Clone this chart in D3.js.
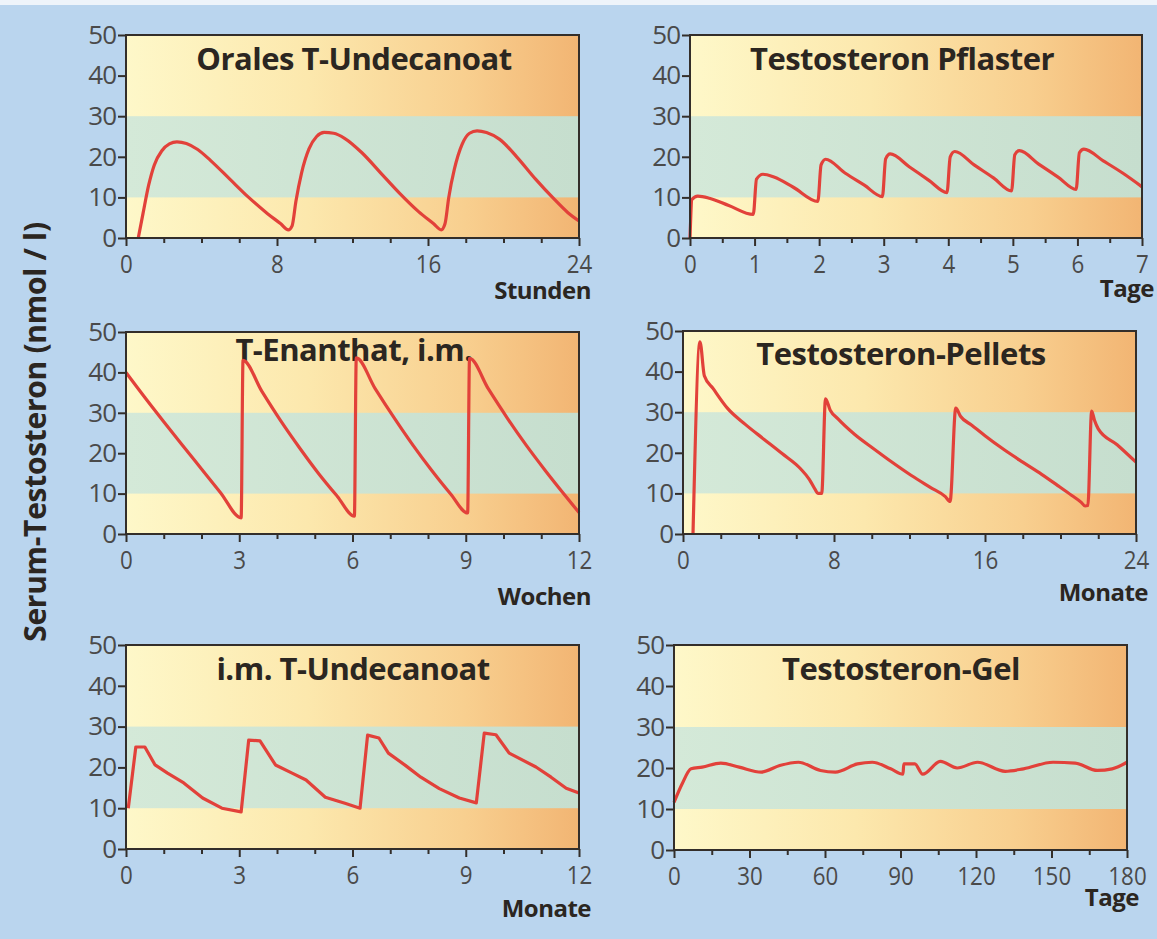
<!DOCTYPE html>
<html>
<head>
<meta charset="utf-8">
<script src="https://cdn.jsdelivr.net/npm/d3@7"></script>
<style>
  html, body { margin: 0; padding: 0; background: #bad5ee; }
  svg { display: block; }
</style>
</head>
<body>
<svg id="chart" width="1157" height="939"></svg>
<script>
// serum testosterone curves: [time, nmol/l]
const oralUndecanoat = [
  [0.65,0],[0.9,6],[1.2,13],[1.5,18],[1.9,21.5],[2.3,23.2],[2.7,23.7],[3.2,23.3],[3.8,21.8],
  [4.5,19],[5.5,14.5],[6.5,10],[7.5,6],[8.2,3.5],[8.6,2],[8.8,3],[9.0,9],[9.3,16],[9.7,22],
  [10.1,25],[10.5,26],[11,25.8],[11.6,24.5],[12.5,21],[13.5,16],[14.5,11],[15.5,6.5],[16.3,3.5],
  [16.7,2],[16.9,3.5],[17.1,10],[17.4,17],[17.8,23],[18.2,25.8],[18.6,26.4],[19.1,26],[19.8,24.3],
  [20.7,20],[21.7,14.5],[22.7,9.5],[23.4,6.3],[24,4.2]
];
const pflaster = [
  [0,0],[0.03,9.5],[0.12,10.3],[0.3,9.8],[0.6,8],[0.98,5.8],[1.03,14.5],[1.13,15.7],[1.3,15],
  [1.6,12.5],[1.98,9],[2.03,18],[2.1,19.4],[2.4,16],[2.7,13],[2.98,10.2],[3.03,19.5],[3.1,20.7],
  [3.4,17.5],[3.7,14.2],[3.98,11.2],[4.03,20],[4.1,21.3],[4.4,18],[4.7,14.8],[4.98,11.6],
  [5.03,20.5],[5.1,21.5],[5.4,18.2],[5.7,15],[5.98,12],[6.03,21],[6.1,21.9],[6.4,19],[6.7,16],[7,12.6]
];
const enanthat = [
  [0,40],[0.5,33.8],[1,27.8],[1.5,21.9],[2,16.1],[2.5,10.3],[3.05,4],
  [3.1,43],[3.6,35.3],[4.1,28],[4.6,21.3],[5.1,15],[5.6,9.3],[6.05,4.4],
  [6.1,43.6],[6.6,36],[7.1,28.8],[7.6,22],[8.1,15.7],[8.6,9.9],[9.05,5.2],
  [9.1,43.5],[9.6,35.9],[10.1,28.7],[10.6,22],[11.1,15.8],[11.6,9.9],[12,5.3]
];
const pellets = [
  [0.53,0],[0.9,47.3],[1.13,39],[1.6,35.8],[2.35,31],[3.3,27],[4.3,23.3],[5.25,19.8],[6.24,16],
  [6.7,13.4],[7.0,11],[7.15,10],[7.35,10],[7.55,33.3],[7.8,30.5],[8.2,28.4],[9.1,24.5],[10.1,21],
  [11.1,17.6],[12.1,14.4],[13.1,11.5],[13.9,9.2],[14.15,8],[14.45,31],[14.7,29],[15.3,26.8],
  [16,24.2],[17,20.8],[18,17.7],[19,14.7],[19.9,11.8],[20.6,9.5],[21.1,7.8],[21.3,6.9],[21.45,7],
  [21.65,30.3],[21.8,28],[22.0,25.9],[23.0,22],[24,17.7]
];
const imUndecanoat = [
  [0.06,10],[0.26,25],[0.5,25],[0.77,20.6],[1.1,18.6],[1.53,16.2],[2.03,12.5],[2.54,10],[3.05,9.1],
  [3.25,26.7],[3.55,26.5],[3.96,20.6],[4.4,18.6],[4.77,16.9],[5.28,12.7],[5.8,11.2],[6.2,10],
  [6.4,27.9],[6.7,27.2],[6.95,23.5],[7.4,20.5],[7.81,17.6],[8.3,14.8],[8.83,12.5],[9.28,11.3],
  [9.49,28.4],[9.8,28],[10.15,23.5],[10.86,20.1],[11.26,17.6],[11.66,14.9],[12,13.7]
];
const gel = [
  [0,11.6],[3.2,16.1],[6.8,19.8],[11.2,20.2],[18.6,21.2],[25.9,20.2],[34.7,19],[42,20.6],
  [49.4,21.4],[58.2,19.4],[64.1,19],[72.9,21],[78.8,21.4],[86.1,19.8],[91,18.5],[91.3,21],
  [95.7,21],[98.8,18.5],[105.9,21.6],[112.5,20],[120.6,21.4],[131.6,19.2],[138.9,19.8],
  [150.6,21.4],[159.4,21.2],[168.2,19.4],[174.1,19.8],[180,21.4]
];

const yTicks = [0, 10, 20, 30, 40, 50];
const normalRange = [10, 30];
const hourTicks = [0, 8, 16, 24];
const dayTicks = [0, 1, 2, 3, 4, 5, 6, 7];
const weekTicks = [0, 3, 6, 9, 12];
const pelletMonthTicks = [0, 8, 16, 24];
const monthTicks = [0, 3, 6, 9, 12];
const gelDayTicks = [0, 30, 60, 90, 120, 150, 180];

const panels = [
  { title: "Orales T-Undecanoat", unit: "Stunden", data: oralUndecanoat, ticks: hourTicks, minor: 2,
    box: [126, 579, 35, 238], titleX: 354, titleY: 70, unitY: 299, curve: d3.curveMonotoneX },
  { title: "Testosteron Pflaster", unit: "Tage", data: pflaster, ticks: dayTicks, minor: 0.5,
    box: [690, 1142, 35, 238], titleX: 902, titleY: 70, unitY: 297, curve: d3.curveMonotoneX },
  { title: "T-Enanthat, i.m.", unit: "Wochen", data: enanthat, ticks: weekTicks, minor: 1,
    box: [126, 579, 332, 534], titleX: 354, titleY: 361, unitY: 605, curve: d3.curveMonotoneX },
  { title: "Testosteron-Pellets", unit: "Monate", data: pellets, ticks: pelletMonthTicks, minor: 2,
    box: [683, 1136, 331, 534], titleX: 901, titleY: 365, unitY: 601, curve: d3.curveMonotoneX },
  { title: "i.m. T-Undecanoat", unit: "Monate", data: imUndecanoat, ticks: monthTicks, minor: 1,
    box: [126, 579, 645, 849], titleX: 353, titleY: 680, unitY: 917, curve: d3.curveLinear },
  { title: "Testosteron-Gel", unit: "Tage", data: gel, ticks: gelDayTicks, minor: 15,
    box: [674, 1127, 645, 850], titleX: 901, titleY: 680, unitY: 906, curve: d3.curveMonotoneX }
];

const svg = d3.select("#chart");
const font = "'Open Sans', 'Noto Sans', sans-serif";
const ink = "#2b2621";

svg.append("rect").attr("width", 1157).attr("height", 939).attr("fill", "#bad5ee");
svg.append("rect").attr("width", 1157).attr("height", 5).attr("fill", "#eef4fa");

const defs = svg.append("defs");
const bg = defs.append("linearGradient").attr("id", "bgGrad");
bg.append("stop").attr("offset", "0%").attr("stop-color", "#fef8c9");
bg.append("stop").attr("offset", "40%").attr("stop-color", "#fce8ad");
bg.append("stop").attr("offset", "75%").attr("stop-color", "#f8cf8f");
bg.append("stop").attr("offset", "100%").attr("stop-color", "#f2b573");
const band = defs.append("linearGradient").attr("id", "bandGrad");
band.append("stop").attr("offset", "0%").attr("stop-color", "#d4e9d8");
band.append("stop").attr("offset", "100%").attr("stop-color", "#c6dece");

panels.forEach((p, i) => {
  const [x0, x1, yTop, yBot] = p.box;
  const x = d3.scaleLinear().domain(d3.extent(p.ticks)).range([x0, x1]);
  const y = d3.scaleLinear().domain([0, 50]).range([yBot, yTop]);
  const g = svg.append("g").attr("class", "panel-" + i);

  g.append("rect")
    .attr("x", x0).attr("y", yTop)
    .attr("width", x1 - x0).attr("height", yBot - yTop)
    .attr("fill", "url(#bgGrad)");
  g.append("rect")
    .attr("x", x0).attr("y", y(normalRange[1]))
    .attr("width", x1 - x0).attr("height", y(normalRange[0]) - y(normalRange[1]))
    .attr("fill", "url(#bandGrad)");

  g.append("text")
    .attr("x", p.titleX).attr("y", p.titleY)
    .attr("text-anchor", "middle")
    .attr("font-family", font).attr("font-weight", 700)
    .attr("font-size", 31).attr("letter-spacing", -0.5).attr("fill", ink)
    .text(p.title);

  const line = d3.line()
    .x(d => x(d[0]))
    .y(d => y(d[1]))
    .curve(p.curve);
  g.append("path")
    .datum(p.data)
    .attr("d", line)
    .attr("fill", "none")
    .attr("stroke", "#e2413a")
    .attr("stroke-width", 3.2)
    .attr("stroke-linejoin", "round");

  g.append("rect")
    .attr("x", x0).attr("y", yTop)
    .attr("width", x1 - x0).attr("height", yBot - yTop)
    .attr("fill", "none").attr("stroke", "#332e2a").attr("stroke-width", 2);

  // minor ticks between the labelled ones
  const minorVals = d3.range(x.domain()[0], x.domain()[1] + 1e-9, p.minor)
    .filter(v => !p.ticks.includes(v));
  g.append("g")
    .attr("transform", `translate(0,${yBot})`)
    .call(d3.axisBottom(x).tickValues(minorVals).tickSize(5).tickFormat(""))
    .call(a => a.select(".domain").remove())
    .selectAll("line").attr("stroke", "#332e2a").attr("stroke-width", 2);

  const xa = g.append("g")
    .attr("transform", `translate(0,${yBot})`)
    .call(d3.axisBottom(x).tickValues(p.ticks).tickFormat(d3.format("d"))
      .tickSize(8).tickPadding(9));
  xa.select(".domain").remove();
  xa.selectAll("line").attr("stroke", "#332e2a").attr("stroke-width", 2);
  xa.selectAll("text")
    .attr("font-family", font).attr("font-size", 26).attr("fill", "#4a4a4a")
    .attr("transform", "scale(0.86,1)");

  const ya = g.append("g")
    .attr("transform", `translate(${x0},0)`)
    .call(d3.axisLeft(y).tickValues(yTicks).tickSize(8).tickPadding(2));
  ya.select(".domain").remove();
  ya.selectAll("line").attr("stroke", "#332e2a").attr("stroke-width", 2);
  ya.selectAll("text")
    .attr("font-family", font).attr("font-size", 26).attr("fill", "#4a4a4a")
    .attr("letter-spacing", -1);

  g.append("text")
    .attr("x", x1 + 12).attr("y", p.unitY)
    .attr("text-anchor", "end")
    .attr("font-family", font).attr("font-weight", 700)
    .attr("font-size", 24).attr("letter-spacing", -0.5).attr("fill", ink)
    .text(p.unit);
});

svg.append("text")
  .attr("transform", "translate(46,432) rotate(-90)")
  .attr("text-anchor", "middle")
  .attr("font-family", font).attr("font-weight", 700)
  .attr("font-size", 30).attr("letter-spacing", -0.3).attr("fill", ink)
  .text("Serum-Testosteron (nmol / l)");
</script>
</body>
</html>
